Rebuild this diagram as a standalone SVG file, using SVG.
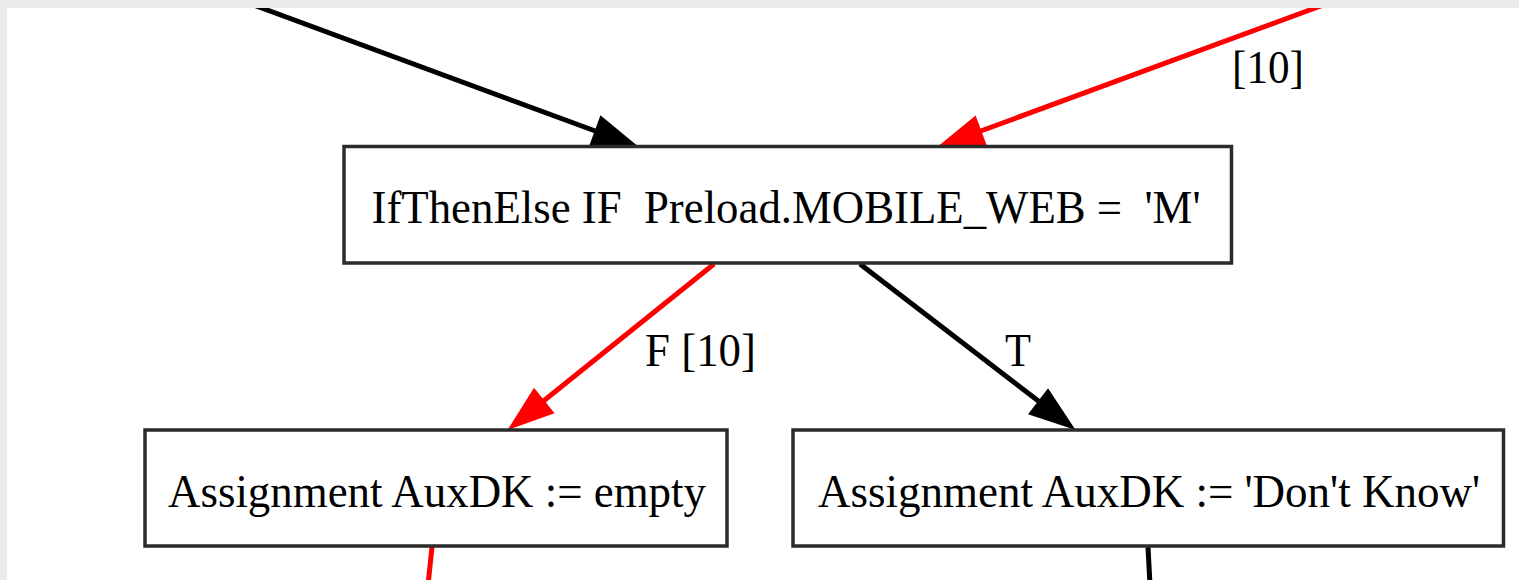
<svg xmlns="http://www.w3.org/2000/svg" width="1519" height="580" viewBox="0 0 1519 580">
  <style>
    .node rect { fill: #ffffff; stroke: #2b2b2b; stroke-width: 3.5; }
    .node text, .lbl { font-family: "Liberation Serif", "Times New Roman", serif; font-size: 47px; fill: #000000; }
    .node text { text-anchor: middle; }
    .edge-black { stroke: #000000; stroke-width: 5; fill: none; }
    .edge-red { stroke: #ff0000; stroke-width: 5; fill: none; }
    .head-black { fill: #000000; stroke: #000000; stroke-width: 2; stroke-linejoin: miter; }
    .head-red { fill: #ff0000; stroke: #ff0000; stroke-width: 2; stroke-linejoin: miter; }
  </style>

  <!-- page background -->
  <rect x="0" y="0" width="1519" height="580" fill="#ffffff"/>

  <!-- connectors -->
  <g id="edges">
    <!-- incoming edge from upper left -->
    <line class="edge-black" x1="240" y1="0" x2="598" y2="132"/>
    <polygon class="head-black" points="636,146 590.5,145.2 600.9,117"/>

    <!-- incoming edge from upper right -->
    <line class="edge-red" x1="1337" y1="0" x2="978" y2="132"/>
    <polygon class="head-red" points="940,146 985.6,145.3 975.2,117.1"/>
    <text class="lbl" x="1232" y="83" textLength="72" lengthAdjust="spacingAndGlyphs">[10]</text>

    <!-- false branch -->
    <line class="edge-red" x1="714" y1="264" x2="541" y2="403"/>
    <polygon class="head-red" points="510,428 552.9,412.8 534.1,389.4"/>
    <text class="lbl" x="645" y="366" textLength="111" lengthAdjust="spacingAndGlyphs">F [10]</text>

    <!-- true branch -->
    <line class="edge-black" x1="860" y1="264" x2="1041" y2="403"/>
    <polygon class="head-black" points="1073,428 1029.7,413.7 1048,389.9"/>
    <text class="lbl" x="1005" y="366" textLength="26" lengthAdjust="spacingAndGlyphs">T</text>

    <!-- outgoing edges below the assignments -->
    <line class="edge-red" x1="432" y1="547" x2="428" y2="585"/>
    <line class="edge-black" x1="1148" y1="547" x2="1150" y2="585"/>
  </g>

  <g id="node-ifthenelse" class="node">
    <rect x="344" y="146.5" width="887.5" height="116.5"/>
    <text x="786" y="223" textLength="829" lengthAdjust="spacingAndGlyphs" xml:space="preserve">IfThenElse IF  Preload.MOBILE_WEB =  'M'</text>
  </g>

  <g id="node-assign-empty" class="node">
    <rect x="145" y="430" width="582" height="116"/>
    <text x="437" y="507" textLength="538" lengthAdjust="spacingAndGlyphs">Assignment AuxDK := empty</text>
  </g>

  <g id="node-assign-dontknow" class="node">
    <rect x="793" y="430" width="710.5" height="116"/>
    <text x="1149" y="507" textLength="662" lengthAdjust="spacingAndGlyphs">Assignment AuxDK := 'Don't Know'</text>
  </g>

  <!-- window frame strips -->
  <rect x="0" y="0" width="1519" height="8" fill="#ebebeb"/>
  <rect x="0" y="0" width="7" height="580" fill="#ebebeb"/>
</svg>
